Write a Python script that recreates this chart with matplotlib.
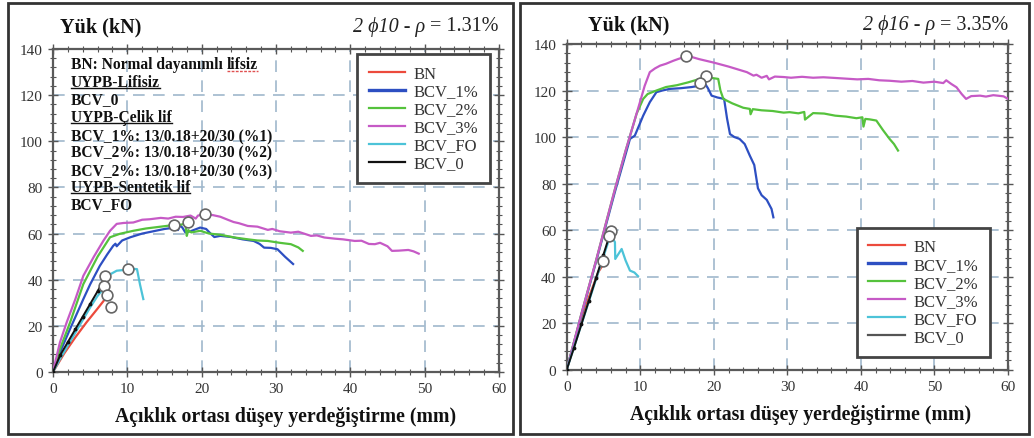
import matplotlib
matplotlib.use("Agg")
import matplotlib.pyplot as plt
from matplotlib.patches import Rectangle
from matplotlib.lines import Line2D
from matplotlib.ticker import MultipleLocator

plt.rcParams['font.family'] = ['Liberation Serif', 'DejaVu Serif']

series_names = ["BN", "BCV_1%", "BCV_2%", "BCV_3%", "BCV_FO", "BCV_0"]
colors_left = ["#ec4a3c", "#2d4fc2", "#55c23c", "#c65ac6", "#4cc3d8", "#111111"]
colors_right = ["#ec4a3c", "#2d4fc2", "#55c23c", "#c65ac6", "#4cc3d8", "#555555"]

# ---- 2 phi10 (rho = 1.31%) ----
l_bn_x = [0, 1.5, 3, 4.5, 6, 7.0]
l_bn_y = [0, 8, 15, 21.5, 27.5, 31.6]

l_b1_x = [0, 0.94, 2.29, 4.08, 5, 6.3, 7.3, 8.1, 8.4, 8.57, 9.3, 10.4, 12, 13.5, 15, 16.2, 16.8,
          17.1, 17.4, 17.8, 18.5, 19.8, 20.6, 21.2, 21.7, 22.5, 24, 25.5, 27, 27.8, 28.4, 29.3,
          30.2, 31.2, 32.3]
l_b1_y = [0, 8.5, 18.6, 31.6, 38, 46, 51, 54.7, 55.6, 54.5, 57, 58.4, 60, 61, 62, 62.5, 61.5,
          63.5, 62.6, 60.5, 61, 62.6, 62, 60, 58.5, 59, 58.5, 57.5, 56.8, 55.5, 53.9, 53.8,
          53.2, 50, 46.8]

l_b2_x = [0, 0.94, 2.3, 4.08, 6, 7.67, 9, 10.8, 12.5, 14, 15.5, 16.2, 17, 17.8, 18.0, 18.2,
          18.6, 19.8, 21, 22.5, 24.4, 26, 27.5, 28.9, 30.5, 32, 33, 33.6]
l_b2_y = [0, 10, 21.5, 38.1, 50, 58.4, 59.9, 61.2, 62.2, 62.8, 63.4, 64, 63.7, 64.3, 59, 61.5,
          60.5, 61.2, 60, 59.5, 58.3, 57.6, 57, 56.8, 56, 55.4, 54, 52.5]

l_b3_x = [0, 0.5, 0.94, 1.84, 3.0, 4.08, 5.5, 6.8, 7.67, 8.57, 9.5, 10.8, 12, 13, 14.5, 15.5,
          16.5, 17.5, 18.5, 19.2, 19.5, 20.3, 21.5, 22.5, 23.5, 24.3, 25, 26.2, 27.5, 28.9,
          29.5, 30.5, 32, 33, 34.7, 35.5, 36.5, 37.9, 39, 40.6, 41.5, 42.5, 43.3, 44, 45, 45.6,
          46.5, 47.8, 48.5, 49.2]
l_b3_y = [0, 7, 12.9, 21.5, 31.5, 41.7, 50, 57, 61.2, 64.2, 64.6, 64.8, 66, 66.2, 66.8, 66.5,
          67.3, 67.2, 67.8, 66.5, 67.8, 68.4, 68, 67.3, 66, 65, 64.5, 63.3, 63, 61.6,
          62, 61, 60.4, 60.8, 59, 59.2, 58.3, 57.8, 57.5, 56.8, 56.9, 55.5, 55.4, 56, 54.5, 52.5,
          52.6, 52.9, 52.3, 51.3]

l_fo_x = [0, 1, 2, 3, 4, 5, 6, 6.77, 7.5, 8.57, 9.5, 10.1, 11.3, 11.7, 12.15]
l_fo_y = [0, 6, 11.5, 17, 22.5, 28, 33, 36, 42, 43.9, 44.2, 44.8, 44.6, 38, 31.6]

l_b0_x = [0, 1, 2, 3, 4, 5, 6, 6.77]
l_b0_y = [0, 7.5, 13, 18.5, 24, 29.5, 35, 39.6]

l_circ_x = [20.5, 16.3, 18.2, 10.1, 7.0, 6.8, 7.2, 7.8]
l_circ_y = [68.5, 63.8, 64.8, 44.8, 41.5, 37.3, 33.5, 28.0]

# ---- 2 phi16 (rho = 3.35%) ----
r_bn_x = [0, 1.5, 3, 4.3, 4.9]
r_bn_y = [0, 16, 31, 42, 45]

r_b1_x = [0, 2, 4, 6.56, 7.24, 8.6, 9.26, 10.4, 11.3, 12.2, 13, 14, 15.5, 17, 18.1, 18.8, 19.2,
          19.7, 20.5, 21.4, 21.8, 22.2, 22.8, 23.5, 24.2, 24.9, 25.5, 26.0, 26.5, 27.2, 27.85, 28.1]
r_b1_y = [0, 23.5, 46.5, 76.5, 84, 99.2, 100.6, 109.2, 115, 119.3, 120, 120.7, 121, 121.5, 122.1,
          123, 121, 117.8, 117, 116.4, 108, 101.3, 100, 99.2, 97, 92, 88, 78, 75, 73, 69.1, 65.5]

r_b2_x = [0, 2, 4, 6.56, 8, 9.5, 10.4, 11, 12.2, 13.5, 15, 16.5, 18.1, 19.5, 20.6, 20.9, 21.3,
          22.5, 24, 24.9, 25.0, 25.3, 26.5, 28, 29.5, 30.3, 31.5, 32.3, 32.4, 33.5, 35, 36.5, 38,
          39.4, 40.2, 40.35, 40.6, 41.2, 42.1, 43, 43.9, 44.5, 45.05]
r_b2_y = [0, 24, 47, 77.6, 94, 110, 116.4, 118.5, 120, 121.5, 122.3, 123.5, 125, 125.5, 125, 120,
          116.4, 114.5, 112.6, 112.1, 109.8, 112, 111.5, 111.2, 110.5, 110.7, 110.2, 110.8, 107.5,
          110.3, 110.1, 109.2, 108.8, 108.1, 108.5, 104.5, 107.8, 107.6, 107.1, 103, 99.2, 97, 94.2]

r_b3_x = [0, 2, 4, 6.56, 8, 9.96, 10.6, 11.3, 12, 12.7, 13.5, 14.5, 15.2, 16.2, 16.8, 18, 20, 22,
          24.5, 25.4, 25.8, 26.5, 27.2, 27.5, 28.3, 29.5, 30.5, 32, 33.5, 34.9, 36.5, 38, 39.5,
          41, 42.5, 43.9, 45.5, 47, 48.5, 50, 51.2, 51.6, 52.3, 53, 53.7, 54.3, 55, 56.2, 57,
          58, 59.4, 60]
r_b3_y = [0, 24, 47, 77.6, 94, 115, 122, 127.9, 129.5, 130.7, 131.5, 132.8, 133.6, 134.6, 134.6,
          133.5, 132, 130.3, 127.9, 126.4, 126.8, 125.5, 126.3, 124.8, 126, 125.8, 125.5, 125.9,
          125.5, 125.7, 125.4, 125.1, 124.8, 125, 124.4, 124.2, 123.8, 124.1, 123.4, 123.8,
          123.2, 124.4, 122.8, 121.4, 118.5, 116.4, 117.6, 117.8, 117.4, 118.0, 117.5, 116.4]

r_fo_x = [0, 2, 4, 5.97, 6.56, 6.6, 7.47, 8.0, 8.6, 9.2, 9.7]
r_fo_y = [0, 19.5, 39, 58, 54.8, 47.6, 51.9, 47, 42.6, 41.8, 40.2]

r_b0_x = [0, 1, 2, 3, 4, 5, 5.8]
r_b0_y = [0, 9.5, 19.5, 29.5, 39.5, 49.5, 57.5]

r_circ_x = [16.2, 18.9, 18.1, 4.9, 5.97, 5.8]
r_circ_y = [135.0, 126.1, 123.1, 46.6, 59.5, 57.6]

notes = ["BN: Normal dayanımlı ", "UYPB-Lifisiz", "BCV_0", "UYPB-Çelik lif",
         "BCV_1%: 13/0.18+20/30 (%1)", "BCV_2%: 13/0.18+20/30 (%2)",
         "BCV_2%: 13/0.18+20/30 (%3)", "UYPB-Sentetik lif", "BCV_FO"]
underlined = [False, True, False, True, False, False, False, True, False]

xlabel = "Açıklık ortası düşey yerdeğiştirme (mm)"
ylabel = "Yük (kN)"

fig = plt.figure(figsize=(10.34, 4.39), dpi=100)

# panel frames
for x0, x1 in [(8, 513), (520, 1029)]:
    fig.patches.append(Rectangle((x0 / 1034, 1 - 435 / 439), (x1 - x0) / 1034, 431 / 439,
                                 transform=fig.transFigure, fill=False, lw=2.0,
                                 edgecolor="#333333", zorder=0))

ax_l = fig.add_axes([53 / 1034, 1 - 373 / 439, 446 / 1034, 323 / 439])
ax_r = fig.add_axes([566.7 / 1034, 1 - 370.7 / 439, 441.3 / 1034, 325.7 / 439])

grid_c = "#9fb8cc"


def style_axes(ax):
    ax.set_xlim(0, 60)
    ax.set_ylim(0, 140)
    ax.xaxis.set_major_locator(MultipleLocator(10))
    ax.xaxis.set_minor_locator(MultipleLocator(2))
    ax.yaxis.set_major_locator(MultipleLocator(20))
    ax.yaxis.set_minor_locator(MultipleLocator(4))
    ax.grid(True, which="major", color=grid_c, lw=1.2, dashes=(7, 5))
    ax.tick_params(which="both", direction="inout", top=True, right=True,
                   color="#555555", labelsize=11, labelcolor="#333333")
    ax.tick_params(which="major", length=7, width=1.0, pad=4)
    ax.tick_params(which="minor", length=4, width=0.8)
    for s in ax.spines.values():
        s.set_color("#5a5a5a")
        s.set_linewidth(1.6)
    ax.set_axisbelow(True)


def draw_panel(ax, data, colors, cx, cy):
    handles = []
    for (xs, ys), name, c in zip(data, series_names, colors):
        if name == "BCV_0":
            ax.plot(xs, ys, color="#111111", lw=1.4, marker=".", ms=3.5, zorder=3)
        else:
            ax.plot(xs, ys, color=c, lw=1.6, zorder=3)
        handles.append(Line2D([], [], color=c, lw=2.4 if name == "BCV_1%" else 1.6, label=name))
    ax.scatter(cx, cy, s=60, facecolor="white", edgecolor="#666666", lw=1.2, zorder=5)
    return handles


style_axes(ax_l)
style_axes(ax_r)

h_l = draw_panel(ax_l, [(l_bn_x, l_bn_y), (l_b1_x, l_b1_y), (l_b2_x, l_b2_y), (l_b3_x, l_b3_y),
                        (l_fo_x, l_fo_y), (l_b0_x, l_b0_y)], colors_left, l_circ_x, l_circ_y)
h_r = draw_panel(ax_r, [(r_bn_x, r_bn_y), (r_b1_x, r_b1_y), (r_b2_x, r_b2_y), (r_b3_x, r_b3_y),
                        (r_fo_x, r_fo_y), (r_b0_x, r_b0_y)], colors_right, r_circ_x, r_circ_y)

leg_kw = dict(fontsize=12, frameon=True, fancybox=False, handlelength=2.2, handletextpad=0.5,
              labelspacing=0.12, borderpad=0.7, borderaxespad=0.0, labelcolor="#333333")
leg_l = ax_l.legend(handles=h_l, loc="upper right", bbox_to_anchor=(0.98, 0.985), **leg_kw)
leg_r = ax_r.legend(handles=h_r, loc="lower right", bbox_to_anchor=(0.959, 0.039), **leg_kw)
for lg in (leg_l, leg_r):
    fr = lg.get_frame()
    fr.set_edgecolor("#444444")
    fr.set_linewidth(2.0)
    fr.set_alpha(1)

# axis titles: (axis, x-label centre, y-label left offset in px, title offset above top in px)
for ax, xl_cx, yl_dx, top_dy, h in ((ax_l, 0.522, 7, 23, 323), (ax_r, 0.531, 21, 20, 325.7)):
    ax.set_xlabel(xlabel, fontsize=14.2, fontweight="bold", color="#111111", va="center")
    ax.xaxis.set_label_coords(xl_cx, -44 / h)
    ax.text(yl_dx / 441.0, 1 + top_dy / h, ylabel, transform=ax.transAxes, fontsize=14.5,
            fontweight="bold", ha="left", va="center", color="#111111")

for ax, val, phi, top_dy, h in ((ax_l, "= 1.31%", "2 ϕ10 - ρ", 23, 323),
                                (ax_r, "= 3.35%", "2 ϕ16 - ρ", 20, 325.7)):
    t = ax.text(1.0, 1 + top_dy / h, val, transform=ax.transAxes, fontsize=14.5, ha="right",
                va="center", color="#222222")
    ax.annotate(phi + " ", xy=(0, 0.5), xycoords=t, ha="right", va="center", fontsize=14.5,
                fontstyle="italic", color="#222222")

# notes in the left panel
fig.canvas.draw()
renderer = fig.canvas.get_renderer()
note_y = [65, 83, 100, 118, 137, 153, 172, 188, 205]
note_texts = []
for txt, u, py in zip(notes, underlined, note_y):
    t = fig.text(71 / 1034, 1 - py / 439, txt, fontsize=11.2, fontweight="bold",
                 ha="left", va="center", color="#111111")
    note_texts.append((t, u))
extra = ax_l.annotate("lifsiz", xy=(1, 0.5), xycoords=note_texts[0][0], ha="left", va="center",
                      fontsize=11.2, fontweight="bold", color="#111111")
fig.canvas.draw()
inv = fig.transFigure.inverted()
for t, u in note_texts:
    if u:
        bb = t.get_window_extent(renderer)
        (x0, y0), (x1, _) = inv.transform([(bb.x0, bb.y0), (bb.x1, bb.y1)])
        fig.add_artist(Line2D([x0, x1], [y0 + 0.004, y0 + 0.004], transform=fig.transFigure,
                              color="#111111", lw=1.0))
bb = extra.get_window_extent(renderer)
(x0, y0), (x1, _) = inv.transform([(bb.x0, bb.y0), (bb.x1, bb.y1)])
fig.add_artist(Line2D([x0, x1], [y0 + 0.002, y0 + 0.002], transform=fig.transFigure,
                      color="#e05050", lw=1.0, ls=(0, (2, 1))))

fig.savefig("out.png", dpi=100, facecolor="white")
